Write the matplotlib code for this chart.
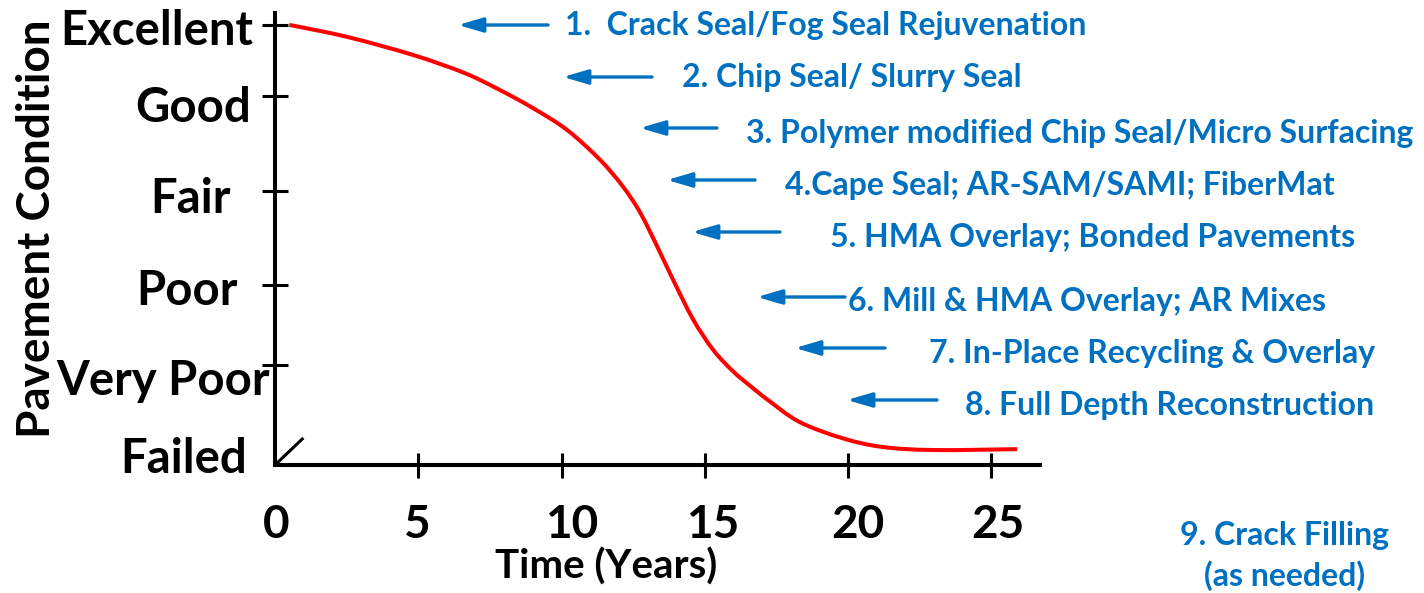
import matplotlib
matplotlib.use("Agg")
import matplotlib.pyplot as plt
from matplotlib.path import Path
from matplotlib.patches import PathPatch
from matplotlib.transforms import ScaledTranslation, blended_transform_factory

# ---------------- data ----------------
years = [0.5, 2.5, 4.8, 6.6, 7.85, 9.0, 10.2, 11.35, 12.15, 12.75, 13.35, 13.9,
         14.6, 15.3, 16.0, 16.6, 17.2, 18.3, 19.8, 21.2, 23.0, 25.9]
condition = [100, 97.3, 93.2, 89.1, 85.2, 81.1, 76.1, 69.3, 63.2, 57.3, 49.5, 42.0,
             33.0, 26.1, 21.2, 17.9, 14.8, 9.8, 6.1, 4.1, 3.4, 3.6]

y_tick_values = [0, 22.7, 40.9, 62.3, 83.9, 100]
y_tick_labels = ["Failed", "Very Poor", "Poor", "Fair", "Good", "Excellent"]
x_tick_values = [0, 5, 10, 15, 20, 25]
x_tick_labels = ["0", "5", "10", "15", "20", "25"]

break_x = [0, 0.95]
break_y = [0, 5.9]

treatments = [
    "1.  Crack Seal/Fog Seal Rejuvenation",
    "2. Chip Seal/ Slurry Seal",
    "3. Polymer modified Chip Seal/Micro Surfacing",
    "4.Cape Seal; AR-SAM/SAMI; FiberMat",
    "5. HMA Overlay; Bonded Pavements",
    "6. Mill & HMA Overlay; AR Mixes",
    "7. In-Place Recycling & Overlay",
    "8. Full Depth Reconstruction",
]
note_text = "9. Crack Filling\n(as needed)"

# ---------------- layout (pixels, top-left origin) ----------------
W, H = 1424, 593
text_left_px = [565, 682, 746, 785, 830, 848, 929, 965]
text_center_px = [25, 77, 133, 185, 237, 302, 354, 406]
arrow_tail_px = [548, 652, 717, 755, 780, 845, 885, 937]
arrow_head_px = [458, 563, 640, 667, 692, 757, 795, 847]
arrow_y_px = [25, 77, 128, 180, 232, 297, 348, 400]

ylab_right_px = [247, 270, 238, 231, 251, 253]
ylab_base_dy = [8, 30, 20, 22, 26, 20]
xlab_dx = [1, -1, 10, 8, 10, 7]
xlab_base_dy = 73

BLUE = "#0070C0"
FONT = "Lato"

fig = plt.figure(figsize=(W / 100, H / 100), dpi=100)
ax_left, ax_right, ax_bottom, ax_top = 275, 1040, 465, 13
ax = fig.add_axes([ax_left / W, 1 - ax_bottom / H, (ax_right - ax_left) / W,
                   (ax_bottom - ax_top) / H])
ax.set_xlim(0, 26.7)
ax.set_ylim(0, 102.7)

for s in ["top", "right"]:
    ax.spines[s].set_visible(False)
for s in ["left", "bottom"]:
    ax.spines[s].set_linewidth(2.9)
    ax.spines[s].set_color("black")
    ax.spines[s].set_capstyle("projecting")

ax.set_xticks(x_tick_values)
ax.set_yticks(y_tick_values)
ax.tick_params(axis="y", direction="inout", length=18.5, width=2.2,
               labelleft=False, color="black")
ax.tick_params(axis="x", direction="inout", length=18, width=2.2,
               labelbottom=False, color="black")
ax.get_yticklines()[0].set_visible(False)
ax.get_yticklines()[1].set_visible(False)
ax.get_xticklines()[0].set_visible(False)
ax.get_xticklines()[1].set_visible(False)

# smooth curve through the read points (Catmull-Rom rendered as cubic Bezier)
pts = list(zip(years, condition))
verts = [pts[0]]
codes = [Path.MOVETO]
n = len(pts)
for i in range(n - 1):
    p0 = pts[i - 1] if i > 0 else pts[i]
    p1 = pts[i]
    p2 = pts[i + 1]
    p3 = pts[i + 2] if i + 2 < n else pts[i + 1]
    c1 = (p1[0] + (p2[0] - p0[0]) / 6, p1[1] + (p2[1] - p0[1]) / 6)
    c2 = (p2[0] - (p3[0] - p1[0]) / 6, p2[1] - (p3[1] - p1[1]) / 6)
    verts += [c1, c2, p2]
    codes += [Path.CURVE4] * 3
curve = PathPatch(Path(verts, codes), facecolor="none", edgecolor="#FF0000",
                  lw=2.9, capstyle="butt", joinstyle="round", clip_on=False,
                  zorder=3)
ax.add_patch(curve)
ax.plot(break_x, break_y, color="black", lw=2.2, clip_on=False, zorder=4)

px = 72 / 100.0  # points per pixel

# y labels
ytrans = blended_transform_factory(fig.transFigure, ax.transData)
for v, lab, rx, dy in zip(y_tick_values, y_tick_labels, ylab_right_px, ylab_base_dy):
    t = ytrans + ScaledTranslation(0, -dy * px / 72, fig.dpi_scale_trans)
    ax.text(rx / W, v, lab, transform=t, ha="right", va="baseline",
            fontsize=34, fontweight="bold", family=FONT, color="black")

# x labels
xtrans = blended_transform_factory(ax.transData, ax.transAxes)
for v, lab, dx in zip(x_tick_values, x_tick_labels, xlab_dx):
    t = xtrans + ScaledTranslation(dx * px / 72, -xlab_base_dy * px / 72, fig.dpi_scale_trans)
    ax.text(v, 0, lab, transform=t, ha="center", va="baseline",
            fontsize=33, fontweight="bold", family=FONT, color="black")

fig.text(606 / W, 1 - 579 / H, "Time (Years)", ha="center", va="baseline",
         fontsize=29, fontweight="bold", family=FONT, color="black")
fig.text(50 / W, 1 - 229 / H, "Pavement Condition", ha="center", va="baseline",
         rotation=90, rotation_mode="anchor", fontsize=33, fontweight="bold",
         family=FONT, color="black")

# treatments with arrows
for txt, lx, cy, tx, hx, ay in zip(treatments, text_left_px, text_center_px,
                                   arrow_tail_px, arrow_head_px, arrow_y_px):
    fig.text(lx / W, 1 - cy / H, txt, ha="left", va="center", fontsize=23,
             fontweight="bold", family=FONT, color=BLUE)
    ax.annotate("", xy=(hx, H - ay), xytext=(tx, H - ay),
                xycoords="figure pixels", textcoords="figure pixels",
                arrowprops=dict(arrowstyle="-|>,head_length=0.75,head_width=0.22",
                                mutation_scale=20, color=BLUE, lw=2.4,
                                shrinkA=0, shrinkB=0),
                annotation_clip=False)

fig.text(1284 / W, 1 - 556 / H, note_text, ha="center", va="center",
         fontsize=23, fontweight="bold", family=FONT, color=BLUE,
         linespacing=1.4)

fig.savefig("out.png", dpi=100)
